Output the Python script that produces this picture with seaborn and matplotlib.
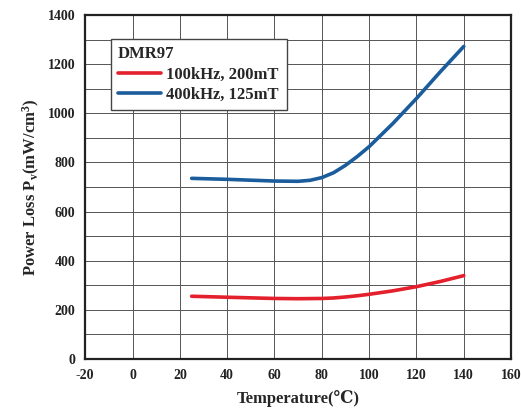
import matplotlib
matplotlib.use("Agg")
import matplotlib.pyplot as plt
from matplotlib.ticker import MultipleLocator
import seaborn as sns
import pandas as pd

temp_red = [25, 40, 60, 70, 80, 85, 90, 95, 100, 110, 120, 130, 140]
loss_red = [255, 251, 246, 245, 246, 248, 252, 257, 263, 277, 294, 315, 339]
temp_blue = [25, 40, 60, 70, 75, 80, 85, 90, 95, 100, 110, 120, 130, 140]
loss_blue = [735, 731, 724, 723, 727, 738, 758, 788, 824, 864, 958, 1060, 1168, 1272]
series_names = ["100kHz, 200mT", "400kHz, 125mT"]
colors = ["#e3202b", "#1b5c9c"]

df = pd.concat([
    pd.DataFrame({"T": temp_red, "P": loss_red, "s": series_names[0]}),
    pd.DataFrame({"T": temp_blue, "P": loss_blue, "s": series_names[1]}),
])

sns.set_style("white")
plt.rcParams["font.family"] = ["Liberation Serif", "DejaVu Serif"]
plt.rcParams["font.weight"] = "bold"
plt.rcParams["axes.unicode_minus"] = False
plt.rcParams["mathtext.fontset"] = "custom"
plt.rcParams["mathtext.rm"] = "Liberation Serif:bold"
plt.rcParams["mathtext.it"] = "Liberation Serif:bold"
plt.rcParams["mathtext.bf"] = "Liberation Serif:bold"
plt.rcParams["mathtext.default"] = "regular"

fig = plt.figure(figsize=(5.21, 4.13), dpi=100)
ax = fig.add_axes([0.1635, 0.131, 0.8175, 0.8327])

sns.lineplot(data=df, x="T", y="P", hue="s", palette=colors, linewidth=2.6,
             ax=ax, estimator=None, sort=True)
for ln in ax.get_lines():
    ln.set_solid_capstyle("round")
    ln.set_solid_joinstyle("round")

ax.set_xlim(-20, 160)
ax.set_ylim(0, 1400)
ax.xaxis.set_major_locator(MultipleLocator(20))
ax.yaxis.set_major_locator(MultipleLocator(200))
ax.yaxis.set_minor_locator(MultipleLocator(100))
ax.grid(True, which="both", color="#555555", linewidth=0.7)
ax.set_axisbelow(True)
for sp in ax.spines.values():
    sp.set_color("#222222")
    sp.set_linewidth(1.6)
ax.tick_params(axis="both", which="major", labelsize=10, length=3, width=0.8,
               direction="in", labelcolor="#222222")
ax.tick_params(axis="x", which="major", pad=7)
ax.tick_params(axis="y", which="major", pad=7)
ax.tick_params(axis="y", which="minor", length=2.5, width=0.8, direction="in")
for lab in ax.get_xticklabels() + ax.get_yticklabels():
    lab.set_fontweight("bold")

ax.set_xlabel("Temperature(\u2103)", fontsize=12, fontweight="bold", labelpad=6)
ax.set_ylabel("Power Loss P$_{v}$(mW/cm$^{3}$)", fontsize=12, fontweight="bold", labelpad=4)

leg = ax.legend(title="DMR97", loc="upper left", bbox_to_anchor=(0.04, 0.955),
                fontsize=12, title_fontsize=12, frameon=True, fancybox=False,
                edgecolor="#444444", framealpha=1, handlelength=2.6,
                borderpad=0.45, labelspacing=0.25, handletextpad=0.3)
leg._legend_box.align = "left"
leg.get_frame().set_linewidth(1.0)
leg.get_title().set_fontweight("bold")
for t in leg.get_texts():
    t.set_fontweight("bold")

fig.savefig("out.png", dpi=100)
